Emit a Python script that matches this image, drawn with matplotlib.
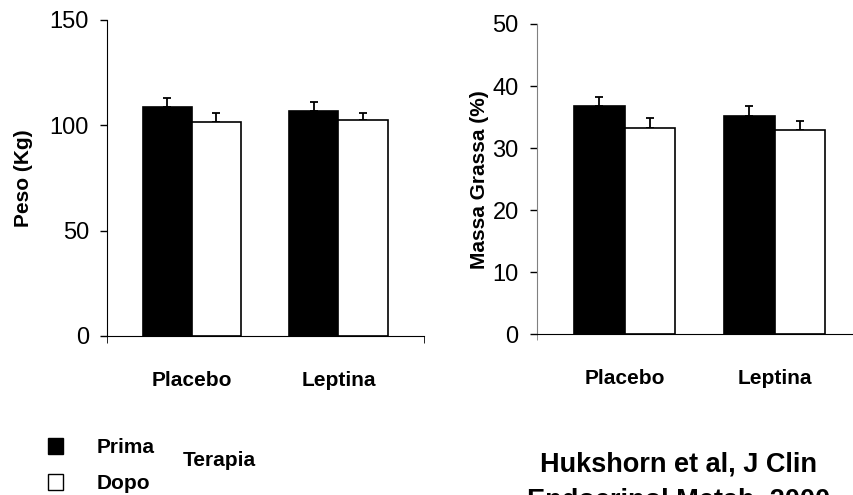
#!/usr/bin/env python3

import matplotlib
matplotlib.use('Agg')
import matplotlib.pyplot as plt
from matplotlib.patches import Patch
import numpy as np

plt.rcParams['font.family'] = ['Liberation Sans', 'DejaVu Sans']

groups = ['Placebo', 'Leptina']
series = ['Prima', 'Dopo']

peso_prima = [108.5, 106.9]
peso_prima_err = [4.6, 4.0]
peso_dopo = [101.6, 102.7]
peso_dopo_err = [4.2, 3.2]

grassa_prima = [36.8, 35.2]
grassa_prima_err = [1.4, 1.6]
grassa_dopo = [33.3, 33.0]
grassa_dopo_err = [1.6, 1.4]

peso_ticks = [0, 50, 100, 150]
grassa_ticks = [0, 10, 20, 30, 40, 50]


def bars(ax, prima, prima_err, dopo, dopo_err, width):
    x = np.arange(len(groups))
    for off, vals, errs, color in ((-width / 2, prima, prima_err, 'black'),
                                   (width / 2, dopo, dopo_err, 'white')):
        ax.bar(x + off, vals, width, color=color, edgecolor='black',
               linewidth=1.2, zorder=2)
        ax.errorbar(x + off, vals, yerr=[np.zeros(len(errs)), errs],
                    fmt='none', ecolor='black', elinewidth=1.3,
                    capsize=3, capthick=1.3, zorder=1)
    ax.set_xticks(x)
    ax.set_xticklabels(groups, fontsize=15, fontweight='bold')
    ax.tick_params(axis='x', length=0, pad=25)
    ax.tick_params(axis='y', labelsize=17, length=5, width=1, pad=8)
    ax.spines['top'].set_visible(False)
    ax.spines['right'].set_visible(False)


def main():
    fig = plt.figure(figsize=(8.54, 4.95), dpi=100)

    ax1 = fig.add_axes([107 / 854, 1 - 336 / 495, 317 / 854, 316 / 495])
    bars(ax1, peso_prima, peso_prima_err, peso_dopo, peso_dopo_err, 0.335)
    ax1.set_xlim(-0.58, 1.584)
    ax1.set_ylim(0, 150)
    ax1.set_yticks(peso_ticks)
    ax1.set_ylabel('Peso (Kg)', fontsize=15, fontweight='bold')
    ax1.yaxis.set_label_coords(-0.233, 0.5)
    ax1.set_xticks([-0.58, 1.584], minor=True)
    ax1.tick_params(axis='x', which='minor', length=5, direction='out')

    ax2 = fig.add_axes([536.7 / 854, 1 - 334.3 / 495, 317.3 / 854, 310.3 / 495])
    bars(ax2, grassa_prima, grassa_prima_err, grassa_dopo, grassa_dopo_err, 0.338)
    ax2.set_xlim(-0.587, 1.529)
    ax2.set_ylim(0, 50)
    ax2.set_yticks(grassa_ticks)
    ax2.set_ylabel('Massa Grassa (%)', fontsize=15, fontweight='bold')
    ax2.yaxis.set_label_coords(-0.150, 0.5)
    ax2.spines['left'].set_color('#808080')
    ax2.set_xticks([-0.587], minor=True)
    ax2.tick_params(axis='x', which='minor', length=4, direction='out',
                    color='#808080')

    handles = [Patch(facecolor='black', edgecolor='black'),
               Patch(facecolor='white', edgecolor='black')]
    fig.legend(handles, series, loc='upper left',
               bbox_to_anchor=(38 / 854, 1 - 428 / 495), frameon=False,
               prop={'size': 15, 'weight': 'bold'}, handlelength=0.72,
               handleheight=0.77, handletextpad=1.6, labelspacing=0.8,
               borderpad=0)
    fig.text(183 / 854, 1 - 461 / 495, 'Terapia', fontsize=15,
             fontweight='bold', ha='left', va='center')

    fig.text(679 / 854, 1 - 452 / 495,
             'Hukshorn et al, J Clin\nEndocrinol Metab, 2000',
             fontsize=19.5, fontweight='bold', ha='center', va='top',
             linespacing=1.45)

    fig.savefig('out.png', dpi=100)


if __name__ == '__main__':
    main()
